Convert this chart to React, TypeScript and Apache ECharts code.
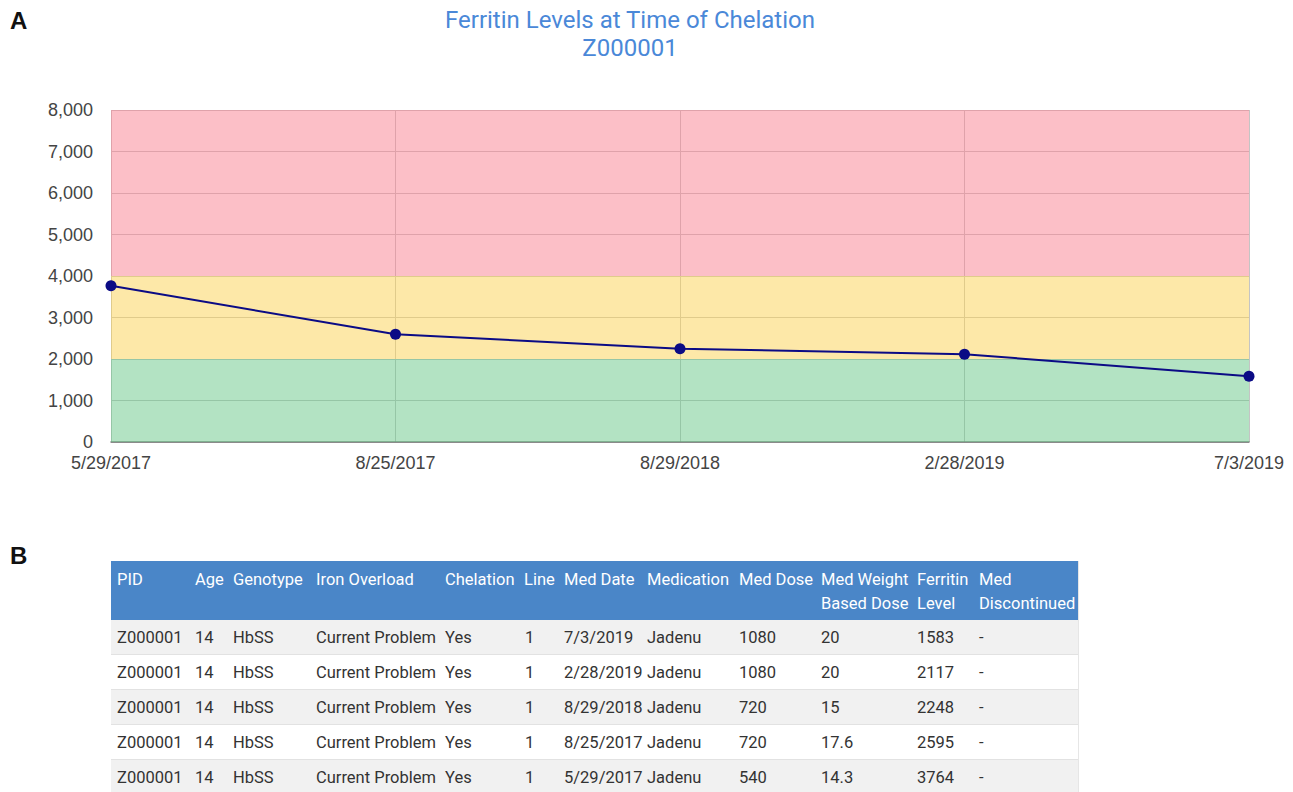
import React, { useEffect, useRef } from "react";
import * as echarts from "echarts";

const chartTitle = "Ferritin Levels at Time of Chelation";
const patientId = "Z000001";
const chartDates = ["5/29/2017", "8/25/2017", "8/29/2018", "2/28/2019", "7/3/2019"];
const ferritinValues = [3764, 2595, 2248, 2117, 1583];
const yTicks = [0, 1000, 2000, 3000, 4000, 5000, 6000, 7000, 8000];
const bands = [
  { from: 0, to: 2000, color: "rgba(103,199,135,0.5)" },
  { from: 2000, to: 4000, color: "rgba(251,209,81,0.5)" },
  { from: 4000, to: 8000, color: "rgba(249,127,143,0.5)" },
];

const headerLine1 = ["PID", "Age", "Genotype", "Iron Overload", "Chelation", "Line", "Med Date", "Medication", "Med Dose", "Med Weight", "Ferritin", "Med"];
const headerLine2 = ["", "", "", "", "", "", "", "", "", "Based Dose", "Level", "Discontinued"];
const tablePid = ["Z000001", "Z000001", "Z000001", "Z000001", "Z000001"];
const tableAge = ["14", "14", "14", "14", "14"];
const tableGenotype = ["HbSS", "HbSS", "HbSS", "HbSS", "HbSS"];
const tableIron = ["Current Problem", "Current Problem", "Current Problem", "Current Problem", "Current Problem"];
const tableChelation = ["Yes", "Yes", "Yes", "Yes", "Yes"];
const tableLine = ["1", "1", "1", "1", "1"];
const tableMedDate = ["7/3/2019", "2/28/2019", "8/29/2018", "8/25/2017", "5/29/2017"];
const tableMedication = ["Jadenu", "Jadenu", "Jadenu", "Jadenu", "Jadenu"];
const tableMedDose = ["1080", "1080", "720", "720", "540"];
const tableWeightDose = ["20", "20", "15", "17.6", "14.3"];
const tableFerritin = ["1583", "2117", "2248", "2595", "3764"];
const tableDiscontinued = ["-", "-", "-", "-", "-"];

const colX = [117, 195, 233, 316, 445, 524, 564, 647, 739, 821, 917, 979];
const colAlignOffset = [0, 0, 0, 0, 0, 1, 0, 0, 0, 0, 0, 0];

export default function App() {
  const ref = useRef<HTMLDivElement>(null);
  useEffect(() => {
    if (!ref.current) return;
    const chart = echarts.init(ref.current, undefined, { renderer: "svg" });
    const tableFont = "Roboto, 'Open Sans', sans-serif";
    const fs = 16.5;
    const columns = [tablePid, tableAge, tableGenotype, tableIron, tableChelation, tableLine, tableMedDate, tableMedication, tableMedDose, tableWeightDose, tableFerritin, tableDiscontinued];
    const tableLeft = 111;
    const tableWidth = 967;
    const headerTop = 561;
    const headerH = 59;
    const rowH = 35;
    const graphics: any[] = [];
    graphics.push({ type: "text", left: 10, top: 8, style: { text: "A", font: "bold 24px 'Liberation Sans', Arial, sans-serif", fill: "#111" } });
    graphics.push({ type: "text", left: 10, top: 543, style: { text: "B", font: "bold 24px 'Liberation Sans', Arial, sans-serif", fill: "#111" } });
    graphics.push({ type: "rect", shape: { x: tableLeft, y: headerTop, width: tableWidth, height: headerH }, style: { fill: "#4a86c8" } });
    graphics.push({ type: "line", shape: { x1: tableLeft + tableWidth + 0.5, y1: headerTop, x2: tableLeft + tableWidth + 0.5, y2: 792 }, style: { stroke: "#e6e6e6", lineWidth: 1 } });
    for (let c = 0; c < headerLine1.length; c++) {
      graphics.push({ type: "text", x: colX[c], y: 579, style: { text: headerLine1[c], font: `${fs}px ${tableFont}`, fill: "#ffffff", textVerticalAlign: "middle" } });
      if (headerLine2[c]) {
        graphics.push({ type: "text", x: colX[c], y: 603, style: { text: headerLine2[c], font: `${fs}px ${tableFont}`, fill: "#ffffff", textVerticalAlign: "middle" } });
      }
    }
    for (let r = 0; r < tablePid.length; r++) {
      const top = headerTop + headerH + r * rowH;
      graphics.push({ type: "rect", shape: { x: tableLeft, y: top, width: tableWidth, height: rowH }, style: { fill: r % 2 === 0 ? "#f1f1f1" : "#ffffff" } });
      graphics.push({ type: "line", shape: { x1: tableLeft, y1: top + rowH - 0.5, x2: tableLeft + tableWidth, y2: top + rowH - 0.5 }, style: { stroke: "#e2e2e2", lineWidth: 1 } });
      for (let c = 0; c < columns.length; c++) {
        graphics.push({ type: "text", x: colX[c] + colAlignOffset[c], y: top + rowH / 2, style: { text: columns[c][r], font: `${fs}px ${tableFont}`, fill: "#333333", textVerticalAlign: "middle" } });
      }
    }

    chart.setOption({
      animation: false,
      title: {
        text: chartTitle + "\n" + patientId,
        left: 630,
        top: 6,
        padding: 0,
        textAlign: "center",
        textStyle: { color: "#4a88d8", fontSize: 24, fontWeight: "normal", fontFamily: "Roboto, 'Open Sans', sans-serif", lineHeight: 28 },
      },
      grid: { left: 111, right: 44, top: 110, bottom: 350, containLabel: false },
      xAxis: {
        type: "category",
        data: chartDates,
        boundaryGap: false,
        axisLine: { show: true, lineStyle: { color: "#777", width: 1.5 } },
        axisTick: { show: false },
        axisLabel: { color: "#444", fontSize: 18, fontFamily: "'Liberation Sans', Arial, sans-serif", margin: 12, interval: 0 },
        splitLine: { show: true, lineStyle: { color: "#c4c4c4", width: 1 } },
      },
      yAxis: {
        type: "value",
        min: yTicks[0],
        max: yTicks[yTicks.length - 1],
        interval: 1000,
        axisLine: { show: false },
        axisTick: { show: false },
        axisLabel: {
          color: "#444",
          fontSize: 18,
          fontFamily: "'Liberation Sans', Arial, sans-serif",
          margin: 18,
          formatter: (v: number) => v.toLocaleString("en-US"),
        },
        splitLine: { show: true, lineStyle: { color: "#c4c4c4", width: 1 } },
      },
      series: [
        {
          type: "line",
          data: ferritinValues,
          symbol: "circle",
          symbolSize: 11,
          lineStyle: { color: "#0b0b85", width: 2 },
          itemStyle: { color: "#0b0b85" },
          z: 5,
          markArea: {
            silent: true,
            data: bands.map((b) => [
              { yAxis: b.from, itemStyle: { color: b.color } },
              { yAxis: b.to },
            ]),
          },
        },
      ],
      graphic: graphics,
    });
    return () => chart.dispose();
  }, []);
  return <div ref={ref} style={{ position: "fixed", left: 0, top: 0, width: 1293, height: 792, background: "#fff" }} />;
}
